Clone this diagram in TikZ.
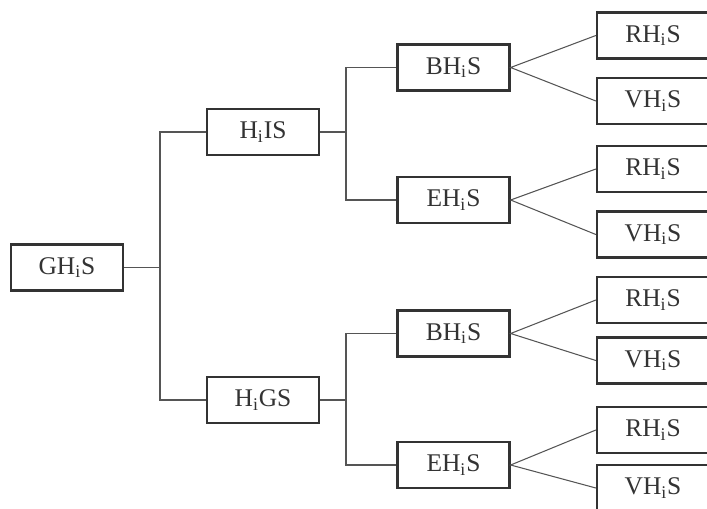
\documentclass[tikz,border=0pt]{standalone}
\usepackage{fontspec}
\setmainfont{Liberation Serif}
\usetikzlibrary{calc}

\definecolor{ink}{HTML}{333333}
\definecolor{wire}{HTML}{555555}

\newcommand{\hs}[1]{#1H\textsubscript{i}S}

\begin{document}
\begin{tikzpicture}[x=0.02cm,y=-0.02cm,
	box/.style={draw=ink,line width=1.3pt,text=ink,minimum width=2.24cm,minimum height=0.92cm,
		inner sep=0pt,font=\fontsize{14.5}{17}\selectfont},
	wire/.style={draw=wire,line width=0.6pt}]
	\clip (0,0) rectangle (707,508);
	\draw (67,267.5) node(ghs) [box] {\hs{G}};
	\draw (263,132) node(his) [box] {H\textsubscript{i}IS};
	\draw (263,400) node(hgs) [box] {H\textsubscript{i}GS};
	\draw (453.5,67.5) node(bhs1) [box] {\hs{B}};
	\draw (453.5,200) node(ehs1) [box] {\hs{E}};
	\draw (453.5,333.5) node(bhs2) [box] {\hs{B}};
	\draw (453.5,465) node(ehs2) [box] {\hs{E}};
	\draw (653,35.5) node(rhs1) [box] {\hs{R}};
	\draw (653,101) node(vhs1) [box] {\hs{V}};
	\draw (653,169) node(rhs2) [box] {\hs{R}};
	\draw (653,234.5) node(vhs2) [box] {\hs{V}};
	\draw (653,300) node(rhs3) [box] {\hs{R}};
	\draw (653,360.5) node(vhs3) [box] {\hs{V}};
	\draw (653,430) node(rhs4) [box] {\hs{R}};
	\draw (653,488) node(vhs4) [box] {\hs{V}};
	% junctions of the bracket lines
	\coordinate (j0) at (160,267.5);
	\coordinate (j1) at (346,132);
	\coordinate (j2) at (346,400);
	\draw[wire] (ghs) -- (j0);
	\draw[wire] (his) -| (j0) |- (hgs);
	\draw[wire] (his) -- (j1);
	\draw[wire] (bhs1) -| (j1) |- (ehs1);
	\draw[wire] (hgs) -- (j2);
	\draw[wire] (bhs2) -| (j2) |- (ehs2);
	% fan out to the last level
	\draw[wire] (rhs1.west) -- (bhs1.east) -- (vhs1.west);
	\draw[wire] (rhs2.west) -- (ehs1.east) -- (vhs2.west);
	\draw[wire] (rhs3.west) -- (bhs2.east) -- (vhs3.west);
	\draw[wire] (rhs4.west) -- (ehs2.east) -- (vhs4.west);
\end{tikzpicture}
\end{document}
